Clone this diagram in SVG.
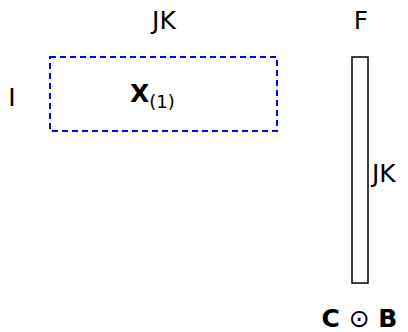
<svg xmlns="http://www.w3.org/2000/svg" width="408" height="332" viewBox="0 0 408 332">
<style>
text{font-family:"DejaVu Sans",sans-serif;font-size:25px;fill:#000}
.b{font-weight:bold}
</style>
<rect width="408" height="332" fill="#fff"/>
<g id="matrix-x">
<rect x="50" y="57" width="227" height="74" fill="none" stroke="#0000ff" stroke-width="2" stroke-dasharray="6,4"/>
<text x="130" y="102" class="b">X<tspan font-size="18" font-weight="normal" dy="6">(1)</tspan></text>
</g>
<g id="label-jk-top"><text x="164" y="29" text-anchor="middle">JK</text></g>
<g id="label-i"><text x="12" y="106" text-anchor="middle">I</text></g>
<g id="matrix-cb">
<rect x="352" y="57" width="16" height="226" fill="none" stroke="#000" stroke-width="1.5"/>
</g>
<g id="label-f"><text x="361" y="29" text-anchor="middle">F</text></g>
<g id="label-jk-side"><text x="372" y="182">JK</text></g>
<g id="label-cb"><text x="359.5" y="327" text-anchor="middle" class="b">C <tspan font-weight="normal">⊙</tspan> B</text></g>
<g id="connectors"></g>
</svg>
